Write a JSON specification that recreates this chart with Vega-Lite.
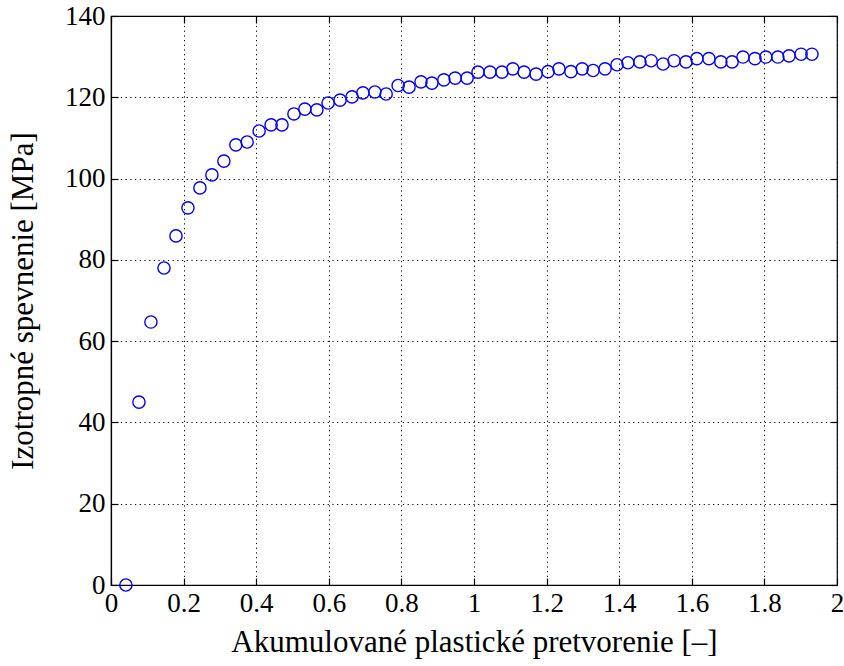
{
  "$schema": "https://vega.github.io/schema/vega-lite/v6.json",
  "width": 726,
  "height": 569,
  "autosize": {"type": "none"},
  "padding": {"left": 111, "top": 16, "right": 7, "bottom": 81},
  "background": "white",
  "config": {
    "view": {"stroke": "black", "strokeWidth": 1.2},
    "font": "Liberation Serif",
    "axis": {
      "labelFont": "Liberation Serif",
      "titleFont": "Liberation Serif",
      "labelFontSize": 27,
      "titleFontSize": 31,
      "titleFontWeight": "normal",
      "labelColor": "black",
      "titleColor": "black",
      "domainColor": "black",
      "tickColor": "black",
      "gridColor": "black",
      "gridDash": [1.2, 3.5],
      "gridOpacity": 1,
      "gridWidth": 1,
      "tickSize": -7,
      "tickWidth": 1.2,
      "domainWidth": 1.2,
      "labelFlush": false
    }
  },
  "data": {"values": [
    {"x": 0.041, "y": 0}, {"x": 0.077, "y": 45.0}, {"x": 0.110, "y": 64.7}, {"x": 0.146, "y": 78.0},
    {"x": 0.179, "y": 85.9}, {"x": 0.212, "y": 92.8}, {"x": 0.245, "y": 97.7}, {"x": 0.278, "y": 100.9},
    {"x": 0.311, "y": 104.3}, {"x": 0.344, "y": 108.3}, {"x": 0.375, "y": 109.0}, {"x": 0.408, "y": 111.7},
    {"x": 0.441, "y": 113.2}, {"x": 0.471, "y": 113.2}, {"x": 0.504, "y": 115.9}, {"x": 0.534, "y": 117.1},
    {"x": 0.567, "y": 116.9}, {"x": 0.598, "y": 118.6}, {"x": 0.631, "y": 119.3}, {"x": 0.664, "y": 120.1},
    {"x": 0.694, "y": 121.1}, {"x": 0.727, "y": 121.3}, {"x": 0.758, "y": 120.8}, {"x": 0.791, "y": 122.9},
    {"x": 0.821, "y": 122.5}, {"x": 0.854, "y": 123.8}, {"x": 0.884, "y": 123.5}, {"x": 0.917, "y": 124.3},
    {"x": 0.948, "y": 124.7}, {"x": 0.981, "y": 124.7}, {"x": 1.011, "y": 126.2}, {"x": 1.044, "y": 126.2},
    {"x": 1.077, "y": 126.2}, {"x": 1.107, "y": 127.0}, {"x": 1.138, "y": 126.2}, {"x": 1.171, "y": 125.7},
    {"x": 1.204, "y": 126.3}, {"x": 1.234, "y": 127.0}, {"x": 1.267, "y": 126.3}, {"x": 1.298, "y": 127.0},
    {"x": 1.328, "y": 126.6}, {"x": 1.361, "y": 127.0}, {"x": 1.394, "y": 128.0}, {"x": 1.424, "y": 128.5},
    {"x": 1.457, "y": 128.7}, {"x": 1.488, "y": 129.0}, {"x": 1.521, "y": 128.2}, {"x": 1.551, "y": 129.0},
    {"x": 1.584, "y": 128.7}, {"x": 1.614, "y": 129.5}, {"x": 1.647, "y": 129.5}, {"x": 1.680, "y": 128.7},
    {"x": 1.711, "y": 128.7}, {"x": 1.741, "y": 129.9}, {"x": 1.774, "y": 129.5}, {"x": 1.804, "y": 129.9},
    {"x": 1.837, "y": 129.9}, {"x": 1.868, "y": 130.2}, {"x": 1.901, "y": 130.6}, {"x": 1.931, "y": 130.6}
  ]},
  "layer": [
    {
      "mark": {"type": "point", "shape": "circle", "filled": false, "color": "#0000FF", "size": 150, "strokeWidth": 1.4, "opacity": 1},
      "encoding": {
        "x": {"field": "x", "type": "quantitative", "scale": {"domain": [0, 2], "nice": false, "zero": false},
              "axis": {"values": [0, 0.2, 0.4, 0.6, 0.8, 1, 1.2, 1.4, 1.6, 1.8, 2], "format": "~g", "title": "Akumulované plastické pretvorenie [–]", "grid": true, "labelPadding": 12, "titlePadding": 11}},
        "y": {"field": "y", "type": "quantitative", "scale": {"domain": [0, 140], "nice": false},
              "axis": {"values": [0, 20, 40, 60, 80, 100, 120, 140], "title": "Izotropné spevnenie [MPa]", "grid": true, "labelPadding": 13, "titlePadding": 25}}
      }
    },
    {
      "mark": {"type": "point", "opacity": 0},
      "encoding": {
        "x": {"field": "x", "type": "quantitative", "scale": {"domain": [0, 2], "nice": false, "zero": false},
              "axis": {"orient": "top", "values": [0, 0.2, 0.4, 0.6, 0.8, 1, 1.2, 1.4, 1.6, 1.8, 2], "labels": false, "title": null, "grid": false, "domain": false}},
        "y": {"field": "y", "type": "quantitative", "scale": {"domain": [0, 140], "nice": false},
              "axis": {"orient": "right", "values": [0, 20, 40, 60, 80, 100, 120, 140], "labels": false, "title": null, "grid": false, "domain": false}}
      }
    }
  ],
  "resolve": {"scale": {"x": "independent", "y": "independent"}, "axis": {"x": "independent", "y": "independent"}}
}
